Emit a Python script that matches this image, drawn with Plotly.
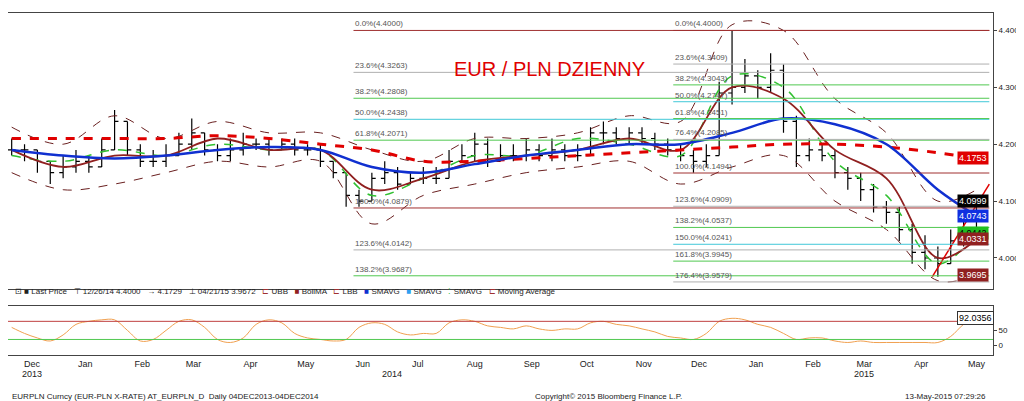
import pandas as pd
import plotly.graph_objects as go

# weekly bars, Dec 2013 - May 2015
week_dates = pd.date_range("2013-12-06", periods=76, freq="7D")
close = [4.19, 4.19, 4.17, 4.15, 4.16, 4.17, 4.16, 4.19, 4.24, 4.19,
         4.17, 4.17, 4.18, 4.20, 4.22, 4.19, 4.18, 4.19, 4.20, 4.20,
         4.19, 4.20, 4.19, 4.19, 4.17, 4.15, 4.11, 4.10, 4.14, 4.15,
         4.13, 4.14, 4.14, 4.14, 4.17, 4.18, 4.20, 4.17, 4.18, 4.18,
         4.19, 4.18, 4.19, 4.18, 4.18, 4.22, 4.22, 4.21, 4.22, 4.21,
         4.20, 4.19, 4.18, 4.17, 4.18, 4.29, 4.30, 4.32, 4.30, 4.33,
         4.24, 4.18, 4.19, 4.18, 4.15, 4.14, 4.12, 4.09, 4.08, 4.05,
         4.01, 4.00, 3.99, 4.03, 4.04, 4.10]
high = [4.21, 4.20, 4.19, 4.17, 4.18, 4.19, 4.18, 4.21, 4.26, 4.24,
        4.20, 4.19, 4.20, 4.22, 4.245, 4.22, 4.20, 4.21, 4.22, 4.21,
        4.21, 4.21, 4.21, 4.20, 4.20, 4.17, 4.15, 4.12, 4.15, 4.17,
        4.16, 4.15, 4.16, 4.16, 4.19, 4.20, 4.22, 4.21, 4.20, 4.20,
        4.21, 4.20, 4.21, 4.20, 4.20, 4.23, 4.24, 4.23, 4.23, 4.23,
        4.22, 4.21, 4.20, 4.19, 4.20, 4.31, 4.40, 4.35, 4.33, 4.36,
        4.34, 4.25, 4.21, 4.20, 4.19, 4.16, 4.15, 4.13, 4.10, 4.09,
        4.06, 4.04, 4.02, 4.05, 4.07, 4.11]
low = [4.18, 4.17, 4.15, 4.13, 4.14, 4.15, 4.15, 4.16, 4.19, 4.18,
       4.16, 4.16, 4.16, 4.18, 4.19, 4.18, 4.17, 4.17, 4.18, 4.19,
       4.18, 4.19, 4.18, 4.18, 4.16, 4.14, 4.09, 4.09, 4.10, 4.13,
       4.12, 4.13, 4.13, 4.13, 4.14, 4.17, 4.17, 4.16, 4.17, 4.17,
       4.17, 4.17, 4.17, 4.17, 4.17, 4.18, 4.20, 4.20, 4.20, 4.20,
       4.19, 4.18, 4.17, 4.15, 4.16, 4.18, 4.27, 4.29, 4.28, 4.29,
       4.22, 4.16, 4.17, 4.17, 4.14, 4.12, 4.10, 4.08, 4.06, 4.03,
       3.99, 3.98, 3.967, 3.99, 4.02, 4.04]
stoch_d = [60, 40, 25, 15, 35, 70, 80, 85, 85, 50, 15, 20, 50, 80, 85, 60, 20, 10, 25, 70,
           85, 75, 40, 25, 20, 15, 20, 60, 75, 70, 45, 35, 40, 40, 75, 85, 80, 65, 60, 55,
           65, 55, 50, 55, 55, 75, 80, 70, 65, 55, 45, 30, 25, 20, 40, 80, 90, 85, 70, 60,
           40, 20, 25, 25, 15, 10, 15, 10, 10, 10, 10, 10, 10, 30, 70, 92]

# four-weekly samples of the studies
ma_dates = list(pd.date_range("2013-12-06", periods=19, freq="28D")) + [pd.Timestamp("2015-05-15")]
sma_blue = [4.19, 4.18, 4.175, 4.18, 4.19, 4.195, 4.19, 4.16, 4.15, 4.165,
            4.18, 4.19, 4.20, 4.20, 4.22, 4.245, 4.235, 4.20, 4.12, 4.074]
ma_red = [4.21, 4.21, 4.21, 4.21, 4.215, 4.21, 4.20, 4.19, 4.17, 4.17,
          4.175, 4.18, 4.185, 4.19, 4.195, 4.20, 4.20, 4.195, 4.185, 4.175]
boll_ma = [4.19, 4.16, 4.18, 4.18, 4.21, 4.19, 4.19, 4.12, 4.14, 4.17,
           4.18, 4.19, 4.21, 4.19, 4.30, 4.28, 4.19, 4.14, 4.00, 4.033]
boll_up = [4.23, 4.20, 4.25, 4.21, 4.24, 4.22, 4.22, 4.19, 4.17, 4.21,
           4.21, 4.22, 4.25, 4.24, 4.41, 4.40, 4.28, 4.22, 4.10, 4.12]
boll_lo = [4.15, 4.12, 4.13, 4.15, 4.17, 4.16, 4.17, 4.06, 4.11, 4.13,
           4.15, 4.16, 4.17, 4.13, 4.16, 4.18, 4.10, 4.05, 3.96, 3.97]
sma_green = [4.18, 4.17, 4.19, 4.18, 4.20, 4.19, 4.19, 4.11, 4.14, 4.18,
             4.18, 4.21, 4.20, 4.18, 4.32, 4.30, 4.17, 4.11, 3.99, 4.044]

trend_dates = ["2015-04-21", "2015-05-22"]
trend_vals = [3.9672, 4.13]

fib_pct = ["0.0", "23.6", "38.2", "50.0", "61.8", "100.0", "123.6", "138.2", "150.0"]
fib_left = [4.4000, 4.3263, 4.2808, 4.2438, 4.2071, 4.0879, 4.0142, 3.9687, 3.9317]
fib_right_pct = ["0.0", "23.6", "38.2", "50.0", "61.8", "76.4", "100.0", "123.6", "138.2", "150.0", "161.8", "176.4"]
fib_right = [4.4000, 4.3409, 4.3043, 4.2747, 4.2451, 4.2085, 4.1494, 4.0909, 4.0537, 4.0241, 3.9945, 3.9579]
fib_colors = {"0.0": "#a03030", "100.0": "#a03030", "23.6": "#b0b0b0", "123.6": "#b0b0b0",
              "176.4": "#b0b0b0", "38.2": "#50c850", "61.8": "#50c850", "138.2": "#50c850",
              "161.8": "#50c850", "50.0": "#40c8d8", "150.0": "#40c8d8", "76.4": "#b0b0b0"}

tags = [(4.1753, "#e00000", "white"), (4.0999, "black", "white"), (4.0743, "#1030e0", "white"),
        (4.0442, "#20c020", "black"), (4.0331, "#902020", "white"), (3.9695, "#902020", "white")]

month_names = ["Dec", "Jan", "Feb", "Mar", "Apr", "May", "Jun", "Jul", "Aug", "Sep",
               "Oct", "Nov", "Dec", "Jan", "Feb", "Mar", "Apr", "May"]

fig = go.Figure()
x_end = "2015-05-22"
for pct, v in zip(fib_pct, fib_left):
    c = fib_colors[pct]
    fig.add_shape(type="line", xref="x", yref="y", x0="2014-06-10", x1=x_end, y0=v, y1=v,
                  line=dict(color=c, width=1))
    fig.add_annotation(x="2014-06-10", y=v, text=f"{pct}%({v:.4f})", showarrow=False,
                       xanchor="left", yanchor="bottom", font=dict(size=8, color="#555"))
for pct, v in zip(fib_right_pct, fib_right):
    c = fib_colors[pct]
    fig.add_shape(type="line", xref="x", yref="y", x0="2014-12-01", x1=x_end, y0=v, y1=v,
                  line=dict(color=c, width=1))
    fig.add_annotation(x="2014-12-01", y=v, text=f"{pct}%({v:.4f})", showarrow=False,
                       xanchor="left", yanchor="bottom", font=dict(size=8, color="#555"))

fig.add_trace(go.Scatter(x=ma_dates, y=boll_up, line=dict(color="#6a2020", width=1, dash="dash", shape="spline")))
fig.add_trace(go.Scatter(x=ma_dates, y=boll_lo, line=dict(color="#6a2020", width=1, dash="dash", shape="spline")))
opens = [close[0]] + close[:-1]
fig.add_trace(go.Ohlc(x=week_dates, open=opens, high=high, low=low, close=close, tickwidth=0.3,
                      increasing_line_color="black", decreasing_line_color="black", line_width=1.2))
fig.add_trace(go.Scatter(x=ma_dates, y=sma_green, line=dict(color="#30c030", width=1.5, dash="dash", shape="spline")))
fig.add_trace(go.Scatter(x=ma_dates, y=boll_ma, line=dict(color="#902020", width=1.8, shape="spline")))
fig.add_trace(go.Scatter(x=ma_dates, y=ma_red, line=dict(color="#e00000", width=3, dash="dash", shape="spline")))
fig.add_trace(go.Scatter(x=ma_dates, y=sma_blue, line=dict(color="#1030d0", width=2.5, shape="spline")))
fig.add_trace(go.Scatter(x=trend_dates, y=trend_vals, mode="lines", line=dict(color="#e00000", width=1.5)))

fig.add_trace(go.Scatter(x=week_dates, y=stoch_d, xaxis="x2", yaxis="y2",
                         line=dict(color="#f0a050", width=1, shape="spline")))
for lvl, c in [(80, "#c04040"), (20, "#50c850")]:
    fig.add_shape(type="line", xref="x2 domain", yref="y2", x0=0, x1=1, y0=lvl, y1=lvl,
                  line=dict(color=c, width=1))

for v, bg, fg in tags:
    fig.add_annotation(xref="paper", x=0.963, y=v, yref="y", text=f"{v:.4f}", showarrow=False,
                       xanchor="left", bgcolor=bg, font=dict(size=9, color=fg))
fig.add_annotation(xref="paper", x=0.963, y=92, yref="y2", text="92.0356", showarrow=False,
                   xanchor="left", bgcolor="white", bordercolor="#333", borderwidth=1,
                   font=dict(size=9, color="black"))

fig.add_annotation(xref="paper", yref="paper", x=0.55, y=0.88, text="EUR / PLN DZIENNY",
                   showarrow=False, font=dict(size=20, color="#e00000", family="Liberation Sans Narrow, Arial Narrow, sans-serif"))
fig.add_annotation(xref="paper", yref="paper", x=0.005, y=0.278, xanchor="left",
                   text="⊡ ■ Last Price   ⊤ 12/26/14 4.4000   → 4.1729   ⊥ 04/21/15 3.9672   "
                        "<span style='color:#a03030'>⊏</span> UBB   <span style='color:#902020'>■</span> BollMA   "
                        "<span style='color:#a03030'>⊏</span> LBB   <span style='color:#1030d0'>■</span> SMAVG   "
                        "<span style='color:#30a0f0'>■</span> SMAVG   <span style='color:#30c030'>⁚</span> SMAVG   "
                        "<span style='color:#a03030'>⊏</span> Moving Average",
                   showarrow=False, font=dict(size=8, color="#222"))

month_pos = [pd.Timestamp("2013-12-17")] + list(pd.date_range("2014-01-01", periods=17, freq="MS") + pd.Timedelta(days=14))
for year, d in [("2013", "2013-12-17"), ("2014", "2014-07-01"), ("2015", "2015-03-15")]:
    fig.add_annotation(x=d, xref="x2", yref="paper", y=0.07, text=year, showarrow=False,
                       font=dict(size=9, color="#222"))

fig.add_annotation(xref="paper", yref="paper", x=0.002, y=0.015, xanchor="left", yanchor="bottom",
                   text="EURPLN Curncy (EUR-PLN X-RATE) AT_EURPLN_D  Daily 04DEC2013-04DEC2014",
                   showarrow=False, font=dict(size=8, color="#222"))
fig.add_annotation(xref="paper", yref="paper", x=0.61, y=0.015, yanchor="bottom",
                   text="Copyright© 2015 Bloomberg Finance L.P.", showarrow=False, font=dict(size=8, color="#222"))
fig.add_annotation(xref="paper", yref="paper", x=0.995, y=0.015, xanchor="right", yanchor="bottom",
                   text="13-May-2015 07:29:26", showarrow=False, font=dict(size=8, color="#222"))

xr = ["2013-12-04", "2015-05-24"]
fig.update_layout(
    width=1024, height=401, showlegend=False,
    margin=dict(t=0, l=0, r=39, b=0),
    paper_bgcolor="white", plot_bgcolor="white",
    font=dict(family="Liberation Sans, Arial, sans-serif", size=9, color="#222"),
    xaxis=dict(range=xr, domain=[0, 1], anchor="y", showticklabels=False, showgrid=False,
               rangeslider=dict(visible=False),
               showline=True, linecolor="#444", mirror=True),
    yaxis=dict(range=[3.946, 4.431], domain=[0.3, 0.988], side="right", tickformat=".4f",
               tickvals=[4.0, 4.1, 4.2, 4.3, 4.4], showgrid=False, ticks="outside", ticklen=3,
               tickfont=dict(size=8), showline=True, linecolor="#444", mirror=True),
    xaxis2=dict(range=xr, domain=[0, 1], anchor="y2", matches="x", showgrid=False,
                tickvals=month_pos, ticktext=month_names, ticks="", tickfont=dict(size=9),
                showline=True, linecolor="#444", mirror=True),
    yaxis2=dict(range=[-31, 131], domain=[0.135, 0.257], side="right", tickvals=[0, 50],
                showgrid=False, ticks="outside", ticklen=3, tickfont=dict(size=8),
                showline=True, linecolor="#444", mirror=True),
)
fig.write_html("out.html")
